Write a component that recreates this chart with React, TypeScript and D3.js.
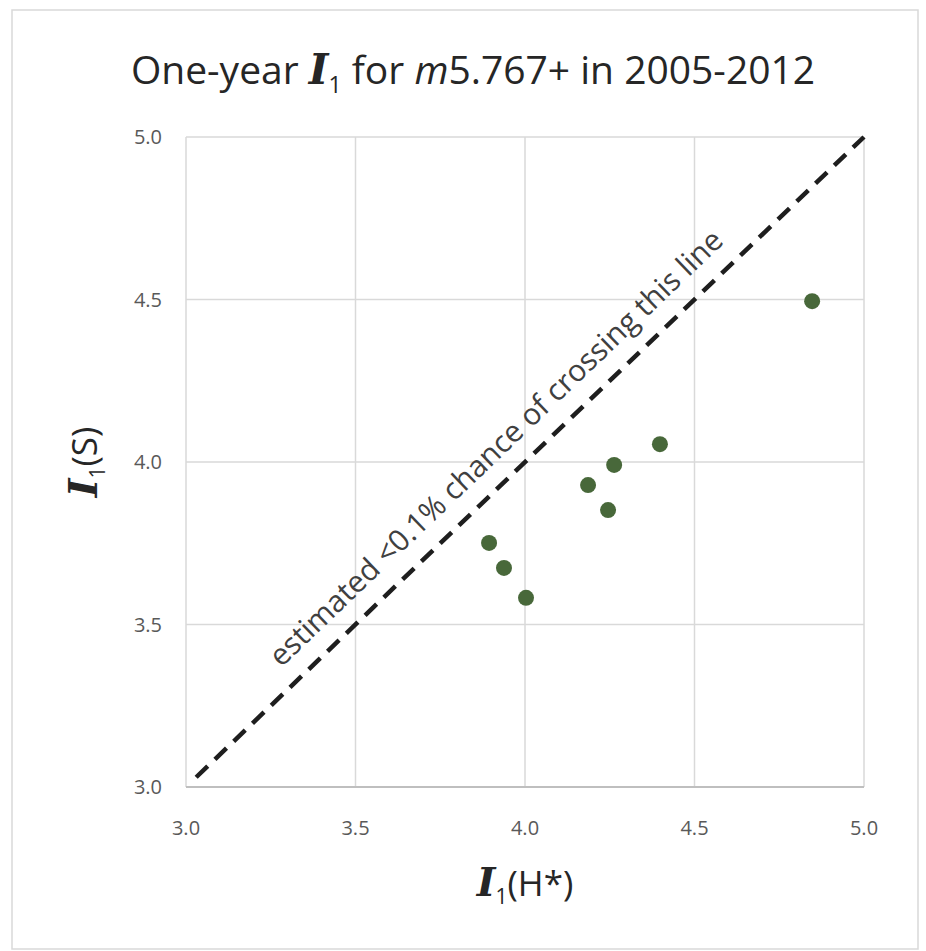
import React, { useEffect, useRef } from 'react';
import * as d3 from 'd3';

// I1(H*) on x, I1(S) on y
const hStar = [4.847, 3.894, 3.938, 4.003, 4.186, 4.263, 4.245, 4.398];
const sVals = [4.495, 3.751, 3.674, 3.582, 3.929, 3.991, 3.852, 4.055];
const xTicks = [3.0, 3.5, 4.0, 4.5, 5.0];
const yTicks = [3.0, 3.5, 4.0, 4.5, 5.0];
const refLine = [3.03, 5.0];
const lineLabel = 'estimated <0.1% chance of crossing this line';

const App = () => {
  const ref = useRef(null);
  const W = 926;
  const H = 951;
  const margin = { top: 137, right: 62, bottom: 164, left: 186 };
  const width = W - margin.left - margin.right;
  const height = H - margin.top - margin.bottom;

  useEffect(() => {
    const svg = d3.select(ref.current);
    svg.selectAll('*').remove();

    const font = '"Open Sans", "Noto Sans", sans-serif';
    const mathFont = '"DejaVu Serif", "Liberation Serif", serif';

    // chart area border (excel style)
    svg.append('rect')
      .attr('x', 12).attr('y', 10)
      .attr('width', W - 20).attr('height', H - 12)
      .attr('fill', '#fff')
      .attr('stroke', '#d9d9d9')
      .attr('stroke-width', 1.5);

    const g = svg.append('g').attr('transform', `translate(${margin.left},${margin.top})`);

    const x = d3.scaleLinear().domain([3, 5]).range([0, width]);
    const y = d3.scaleLinear().domain([3, 5]).range([height, 0]);

    // gridlines
    g.selectAll('.vgrid').data(xTicks).join('line')
      .attr('x1', d => x(d)).attr('x2', d => x(d))
      .attr('y1', 0).attr('y2', height)
      .attr('stroke', '#d9d9d9').attr('stroke-width', 1.5);
    g.selectAll('.hgrid').data(yTicks).join('line')
      .attr('y1', d => y(d)).attr('y2', d => y(d))
      .attr('x1', 0).attr('x2', width)
      .attr('stroke', '#d9d9d9').attr('stroke-width', 1.5);

    // bottom axis line slightly darker
    g.append('line')
      .attr('x1', 0).attr('x2', width)
      .attr('y1', height).attr('y2', height)
      .attr('stroke', '#bfbfbf').attr('stroke-width', 2);

    // tick labels
    g.selectAll('.xt').data(xTicks).join('text')
      .attr('x', d => x(d)).attr('y', height + 48)
      .attr('text-anchor', 'middle')
      .attr('font-family', font).attr('font-size', 20)
      .attr('fill', '#595959')
      .text(d => d.toFixed(1));
    g.selectAll('.yt').data(yTicks).join('text')
      .attr('x', -24).attr('y', d => y(d) + 7)
      .attr('text-anchor', 'end')
      .attr('font-family', font).attr('font-size', 20)
      .attr('fill', '#595959')
      .text(d => d.toFixed(1));

    // reference diagonal
    g.append('line')
      .attr('x1', x(refLine[0])).attr('y1', y(refLine[0]))
      .attr('x2', x(refLine[1])).attr('y2', y(refLine[1]))
      .attr('stroke', '#1e1e1e')
      .attr('stroke-width', 4.5)
      .attr('stroke-dasharray', '16,10');

    // label along the diagonal
    const angle = Math.atan2(y(5) - y(3), x(5) - x(3)) * 180 / Math.PI;
    const mid = 3.976;
    g.append('text')
      .attr('transform', `translate(${x(mid)},${y(mid)}) rotate(${angle}) translate(0,-20)`)
      .attr('text-anchor', 'middle')
      .attr('font-family', font).attr('font-size', 30)
      .attr('fill', '#404040')
      .text(lineLabel);

    // points
    g.selectAll('.pt').data(hStar.map((h, i) => [h, sVals[i]])).join('circle')
      .attr('cx', d => x(d[0])).attr('cy', d => y(d[1]))
      .attr('r', 8)
      .attr('fill', '#48683a');

    // title
    const title = svg.append('text')
      .attr('x', 473).attr('y', 84)
      .attr('text-anchor', 'middle')
      .attr('font-family', font).attr('font-size', 39)
      .attr('fill', '#262626');
    title.append('tspan').text('One-year ');
    title.append('tspan').attr('font-family', mathFont).attr('font-style', 'italic').attr('font-weight', 'bold').attr('font-size', 42).text('I');
    title.append('tspan').attr('font-size', 23).attr('dy', 9).text('1');
    title.append('tspan').attr('dy', -9).text(' for ');
    title.append('tspan').attr('font-style', 'italic').text('m');
    title.append('tspan').text('5.767+ in 2005-2012');

    // x axis title
    const xt = svg.append('text')
      .attr('x', margin.left + x(4)).attr('y', 896)
      .attr('text-anchor', 'middle')
      .attr('font-family', font).attr('font-size', 35)
      .attr('fill', '#262626');
    xt.append('tspan').attr('font-family', mathFont).attr('font-style', 'italic').attr('font-weight', 'bold').attr('font-size', 40).text('I');
    xt.append('tspan').attr('font-size', 21).attr('dy', 8).text('1');
    xt.append('tspan').attr('dy', -8).text('(H*)');

    // y axis title
    const yt = svg.append('text')
      .attr('transform', `translate(97,${margin.top + y(4)}) rotate(-90)`)
      .attr('text-anchor', 'middle')
      .attr('font-family', font).attr('font-size', 35)
      .attr('fill', '#262626');
    yt.append('tspan').attr('font-family', mathFont).attr('font-style', 'italic').attr('font-weight', 'bold').attr('font-size', 40).text('I');
    yt.append('tspan').attr('font-size', 21).attr('dy', 8).text('1');
    yt.append('tspan').attr('dy', -8).text('(S)');
  }, []);

  return (
    <svg ref={ref} width={W} height={H} style={{ position: 'absolute', left: 0, top: 0, background: '#fff' }} />
  );
};

export default App;
